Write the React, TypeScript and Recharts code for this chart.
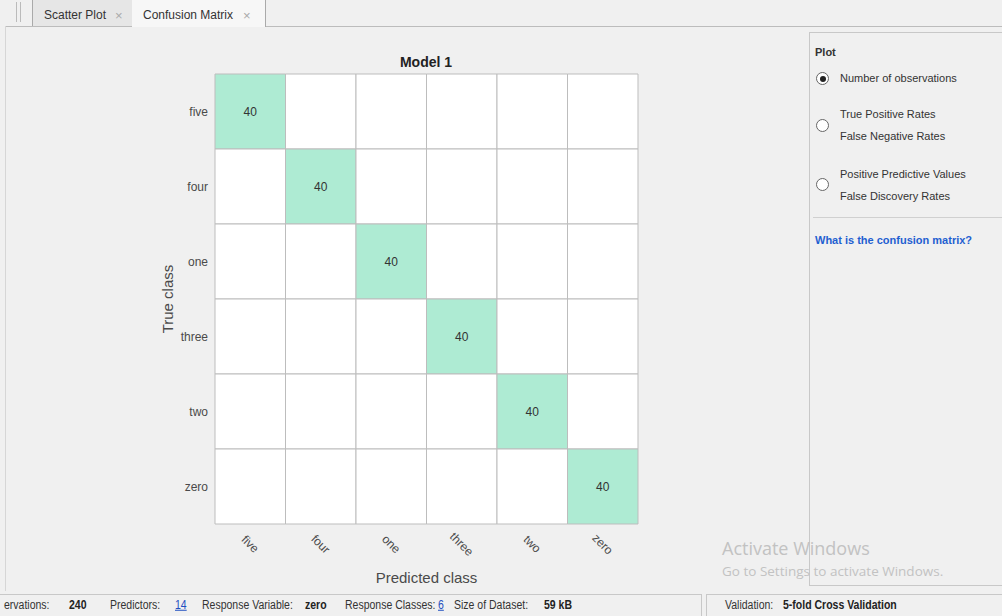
import { BarChart, Bar, XAxis, YAxis, Cell, LabelList } from 'recharts'

const trueClasses = ['five', 'four', 'one', 'three', 'two', 'zero']
const predictedClasses = ['five', 'four', 'one', 'three', 'two', 'zero']

// observations per true class, in predicted-class order
const fiveRow = [40, 0, 0, 0, 0, 0]
const fourRow = [0, 40, 0, 0, 0, 0]
const oneRow = [0, 0, 40, 0, 0, 0]
const threeRow = [0, 0, 0, 40, 0, 0]
const twoRow = [0, 0, 0, 0, 40, 0]
const zeroRow = [0, 0, 0, 0, 0, 40]
const counts = [fiveRow, fourRow, oneRow, threeRow, twoRow, zeroRow]

const GREEN = '#aeebd3'
const TEXT = '#4a4a4a'
const FONT = '"Liberation Sans", Arial, sans-serif'

// each cell is a unit-wide stacked segment; the count decides colour and label
const rows = trueClasses.map((cls, i) => {
  const row: Record<string, string | number> = { cls }
  predictedClasses.forEach((_, j) => {
    row[`w${j}`] = 1
    row[`n${j}`] = counts[i][j]
  })
  return row
})
const xTicks = predictedClasses.map((_, j) => j + 0.5)

function CountLabel(props: any) {
  const { x, y, width, height, value } = props
  if (!value) return null
  return (
    <text x={x + width / 2} y={y + height / 2} dy="0.35em" textAnchor="middle" fontSize={12} fill="#333">
      {value}
    </text>
  )
}

function PredTick({ x, y, payload }: any) {
  return (
    <g transform={`translate(${x},${y + 20})`}>
      <text transform="rotate(45)" textAnchor="middle" dy="0.35em" fontSize={12} fill={TEXT}>
        {predictedClasses[Math.floor(payload.value)]}
      </text>
    </g>
  )
}

function Radio({ x, y, on }: { x: number; y: number; on?: boolean }) {
  return (
    <div style={{ position: 'absolute', left: x - 6, top: y - 6, width: 11, height: 11, borderRadius: '50%', border: '1px solid #666', background: '#fff' }}>
      {on && <div style={{ position: 'absolute', left: 2.5, top: 2.5, width: 6, height: 6, borderRadius: '50%', background: '#222' }} />}
    </div>
  )
}

function T({ x, y, children, size = 11, bold, color = '#333', font = FONT, sx = 1 }: any) {
  return (
    <div style={{ position: 'absolute', left: x, top: y, transform: `translateY(-50%) scaleX(${sx})`, transformOrigin: 'left center', fontSize: size, fontWeight: bold ? 'bold' : 'normal', color, fontFamily: font, whiteSpace: 'nowrap', lineHeight: 1 }}>
      {children}
    </div>
  )
}

// status bar text is condensed in the original
function S(props: any) {
  return <T size={12.5} sx={0.84} y={605} {...props} />
}

export default function App() {
  return (
    <div style={{ position: 'absolute', left: 0, top: 0, width: 1002, height: 616, background: '#f0f0f0', overflow: 'hidden', fontFamily: FONT }}>
      {/* tab strip */}
      <div style={{ position: 'absolute', left: 16, top: 2, width: 1, height: 20, background: '#bbb' }} />
      <div style={{ position: 'absolute', left: 20, top: 2, width: 1, height: 20, background: '#bbb' }} />
      <div style={{ position: 'absolute', left: 32, top: 0, width: 100, height: 26, background: '#e6e6e6', borderLeft: '1px solid #aaa', borderRight: '1px solid #ccc' }} />
      <div style={{ position: 'absolute', left: 132, top: 0, width: 133, height: 27, background: '#f7f7f7', borderRight: '1px solid #aaa', zIndex: 2 }} />
      <div style={{ position: 'absolute', left: 6, top: 26, width: 996, height: 1, background: '#bcbcbc' }} />
      <div style={{ position: 'absolute', left: 5, top: 26, width: 1, height: 565, background: '#d6d6d6' }} />
      <div style={{ zIndex: 3, position: 'relative' }}>
        <T x={44} y={15} size={12} color="#333">Scatter Plot</T>
        <T x={115} y={15} size={13} color="#aaa">×</T>
        <T x={143} y={15} size={12} color="#333">Confusion Matrix</T>
        <T x={243} y={15} size={13} color="#aaa">×</T>
      </div>

      {/* matrix */}
      <div style={{ position: 'absolute', left: 0, top: 0 }}>
        <BarChart width={660} height={600} data={rows} layout="vertical" barCategoryGap={0} barGap={0}
          margin={{ top: 74, right: 22, left: 155, bottom: 14 }}>
          <XAxis type="number" domain={[0, 6]} ticks={xTicks} interval={0} height={62} tickLine={false} axisLine={false}
            tickSize={0} tickMargin={0} tick={PredTick}
            label={{ value: 'Predicted class', position: 'insideBottom', offset: 3, fontSize: 15, fill: TEXT }} />
          <YAxis type="category" dataKey="cls" width={60} tickLine={false} axisLine={false} tickSize={0} tickMargin={7}
            tick={{ fontSize: 12, fill: TEXT }}
            label={{ value: 'True class', angle: -90, position: 'insideLeft', offset: 13, fontSize: 15, fill: TEXT, style: { textAnchor: 'middle' } }} />
          {predictedClasses.map((p, j) => (
            <Bar key={p} dataKey={`w${j}`} stackId="m" stroke="#bdbdbd" isAnimationActive={false}>
              {rows.map((r, i) => (
                <Cell key={i} fill={Number(r[`n${j}`]) > 0 ? GREEN : '#ffffff'} />
              ))}
              <LabelList dataKey={`n${j}`} content={CountLabel} />
            </Bar>
          ))}
        </BarChart>
      </div>
      <div style={{ position: 'absolute', left: 326, top: 62, width: 200, textAlign: 'center', transform: 'translateY(-50%)', fontSize: 14, fontWeight: 'bold', color: '#222', lineHeight: 1 }}>
        Model 1
      </div>

      {/* options panel */}
      <div style={{ position: 'absolute', left: 809, top: 32, width: 200, height: 552, borderLeft: '1px solid #c8c8c8', borderTop: '1px solid #c8c8c8', borderBottom: '1px solid #c8c8c8' }} />
      <T x={815} y={52} bold>Plot</T>
      <Radio x={822} y={78} on />
      <T x={840} y={78}>Number of observations</T>
      <Radio x={822} y={125} />
      <T x={840} y={114}>True Positive Rates</T>
      <T x={840} y={136}>False Negative Rates</T>
      <Radio x={822} y={184} />
      <T x={840} y={174}>Positive Predictive Values</T>
      <T x={840} y={196}>False Discovery Rates</T>
      <div style={{ position: 'absolute', left: 813, top: 217, width: 189, height: 1, background: '#d0d0d0' }} />
      <T x={815} y={240} bold color="#1f5fd0">What is the confusion matrix?</T>

      {/* watermark */}
      <T x={722} y={548} size={18} color="#c2c2c2" font='"Open Sans", sans-serif'>Activate Windows</T>
      <T x={722} y={572} size={13.5} color="#c2c2c2" font='"Open Sans", sans-serif'>Go to Settings to activate Windows.</T>

      {/* status bar */}
      <div style={{ position: 'absolute', left: -2, top: 594, width: 702, height: 24, border: '1px solid #c8c8c8' }} />
      <div style={{ position: 'absolute', left: 706, top: 594, width: 300, height: 24, border: '1px solid #c8c8c8' }} />
      <S x={4}>ervations:</S>
      <S x={69} bold color="#222">240</S>
      <S x={110}>Predictors:</S>
      <S x={175} color="#1f4fc0"><span style={{ textDecoration: 'underline' }}>14</span></S>
      <S x={202}>Response Variable:</S>
      <S x={305} bold color="#222">zero</S>
      <S x={345}>Response Classes:</S>
      <S x={438} color="#1f4fc0"><span style={{ textDecoration: 'underline' }}>6</span></S>
      <S x={454}>Size of Dataset:</S>
      <S x={544} bold color="#222">59 kB</S>
      <S x={725}>Validation:</S>
      <S x={783} bold color="#222">5-fold Cross Validation</S>
    </div>
  )
}
